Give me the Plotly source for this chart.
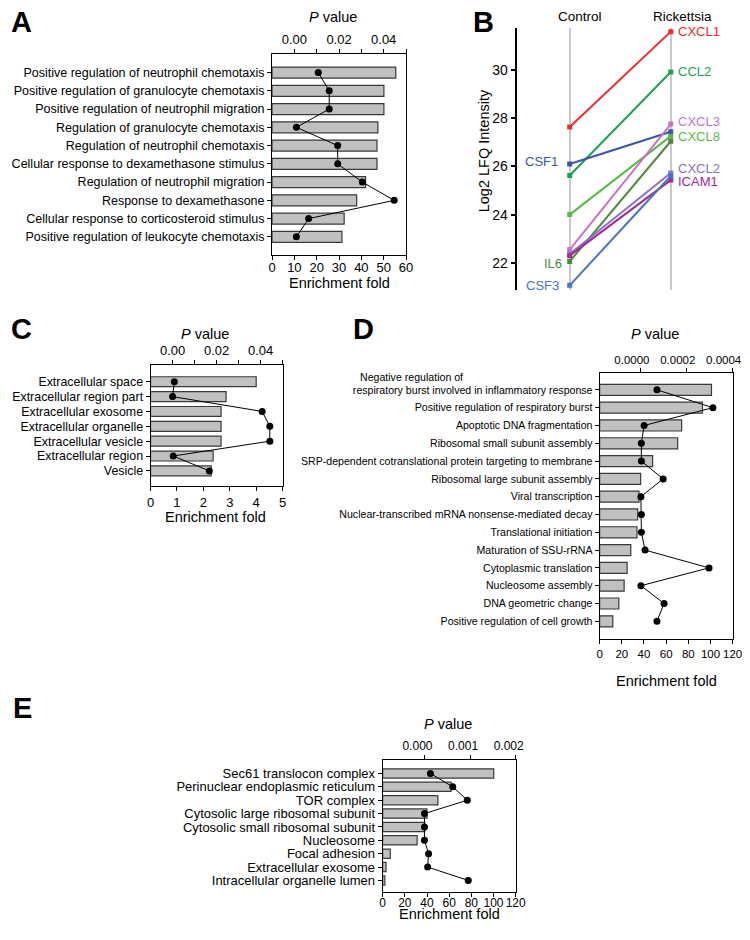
import plotly.graph_objects as go

# reference picture is 750x940; the page shows the figure inside an 8 px body margin,
# so positions below are given in reference pixels and mapped onto a smaller figure
W, H = 750, 940
OFF = 8
FW, FH = W - 2 * OFF, H - 3 * OFF
X0, X_SPAN = 3, 745   # reference x range mapped onto the figure width
Y_SPAN = 926          # reference y range (from OFF) mapped onto the figure height
FONT = "Liberation Sans, Arial, Helvetica, sans-serif"

# ---- panel A : GO biological process (neutrophil set)
a_terms = [
    "Positive regulation of neutrophil chemotaxis",
    "Positive regulation of granulocyte chemotaxis",
    "Positive regulation of neutrophil migration",
    "Regulation of granulocyte chemotaxis",
    "Regulation of neutrophil chemotaxis",
    "Cellular response to dexamethasone stimulus",
    "Regulation of neutrophil migration",
    "Response to dexamethasone",
    "Cellular response to corticosteroid stimulus",
    "Positive regulation of leukocyte chemotaxis",
]
a_fold = [55.4, 50.1, 50.1, 47.4, 47.0, 47.0, 41.9, 37.9, 32.3, 31.3]
a_pval = [0.0107, 0.0156, 0.0156, 0.0009, 0.0194, 0.0194, 0.0304, 0.0447, 0.0064, 0.0009]

# ---- panel B : LFQ intensities
b_groups = ["Control", "Rickettsia"]
b_genes = ["CXCL1", "CCL2", "CSF1", "CXCL8", "CXCL3", "IL6", "CXCL2", "ICAM1", "CSF3"]
b_control = [27.63, 25.62, 26.10, 24.00, 22.55, 22.06, 22.37, 22.30, 21.07]
b_rickettsia = [31.58, 29.91, 27.43, 27.25, 27.75, 27.04, 25.72, 25.43, 25.60]
b_colors = ["#ee2b2b", "#1fa050", "#3c55a6", "#5ab94a", "#c774c4",
            "#4e8a3c", "#8c70c8", "#a3288f", "#4a72c4"]
b_label_side = ["right", "right", "left", "right", "right", "left", "right", "right", "left"]

# ---- panel C : GO cellular component
c_terms = [
    "Extracellular space",
    "Extracellular region part",
    "Extracellular exosome",
    "Extracellular organelle",
    "Extracellular vesicle",
    "Extracellular region",
    "Vesicle",
]
c_fold = [4.0, 2.86, 2.67, 2.67, 2.67, 2.37, 2.30]
c_pval = [0.0008, 0.0, 0.0407, 0.0442, 0.0442, 0.0003, 0.0167]

# ---- panel D : GO biological process (second set)
d_terms = [
    "Negative regulation of<br>respiratory burst involved in inflammatory response",
    "Positive regulation of respiratory burst",
    "Apoptotic DNA fragmentation",
    "Ribosomal small subunit assembly",
    "SRP-dependent cotranslational protein targeting to membrane",
    "Ribosomal large subunit assembly",
    "Viral transcription",
    "Nuclear-transcribed mRNA nonsense-mediated decay",
    "Translational initiation",
    "Maturation of SSU-rRNA",
    "Cytoplasmic translation",
    "Nucleosome assembly",
    "DNA geometric change",
    "Positive regulation of cell growth",
]
d_fold = [100.9, 92.8, 74.0, 70.4, 47.8, 37.0, 35.5, 34.3, 33.7, 28.1, 24.8, 22.1, 17.3, 11.9]
d_pval = [0.000070, 0.000314, 0.000014, 0.000002, 0.000002, 0.000097, 0.0,
          0.000002, 0.000002, 0.000018, 0.000297, 0.0, 0.000101, 0.000070]

# ---- panel E : GO cellular component (second set)
e_terms = [
    "Sec61 translocon complex",
    "Perinuclear endoplasmic reticulum",
    "TOR complex",
    "Cytosolic large ribosomal subunit",
    "Cytosolic small ribosomal subunit",
    "Nucleosome",
    "Focal adhesion",
    "Extracellular exosome",
    "Intracellular organelle lumen",
]
e_fold = [100.2, 61.7, 49.8, 40.0, 38.0, 31.1, 6.8, 3.0, 2.0]
e_pval = [0.00013, 0.00062, 0.00094, 0.0, 0.0, 0.0, 0.00009, 0.00007, 0.00096]


def px(x):
    return (x - X0) / X_SPAN


def py(y):
    return 1 - (y - OFF) / Y_SPAN


def ax_key(kind, n):
    return kind if n == 1 else f"{kind}{n}"


def note(text, x, y, size, **kw):
    d = dict(text=text, x=px(x), y=py(y), xref="paper", yref="paper",
             xanchor="center", yanchor="middle", showarrow=False, font=dict(size=size))
    d.update(kw)
    return d


fig = go.Figure()
layout = {}
annotations = []

LINE = dict(showline=True, linecolor="black", linewidth=1, ticks="outside", ticklen=4,
            tickcolor="black", showgrid=False, zeroline=False, automargin=False, tickangle=0,
            ticklabeloverflow="allow")


def enrichment_panel(xb, xt, yy, terms, fold, pval, box, fold_range, fold_dtick,
                     p_range, p_ticks, p_fmt, p_minor, y_pad, bar_w, label_font,
                     tick_size=13, p_shift=0, fold_standoff=0):
    left, right, top, bottom = box
    ticktext = [t.split("<br>")[-1] for t in terms]
    fig.add_trace(go.Bar(
        x=fold, y=terms, orientation="h", width=bar_w,
        xaxis=ax_key("x", xb), yaxis=ax_key("y", yy),
        marker=dict(color="#c0c0c0", line=dict(color="#3a3a3a", width=1.2)),
        showlegend=False,
    ))
    fig.add_trace(go.Scatter(
        x=pval, y=terms, mode="lines+markers",
        xaxis=ax_key("x", xt), yaxis=ax_key("y", yy),
        line=dict(color="black", width=1), marker=dict(color="black", size=7),
        showlegend=False,
    ))
    layout[ax_key("xaxis", xb)] = dict(
        domain=[px(left), px(right)], range=fold_range, tick0=0, dtick=fold_dtick,
        anchor=ax_key("y", yy), tickfont=dict(size=tick_size),
        ticklabelstandoff=fold_standoff, **LINE)
    minor = dict(tickvals=p_minor, ticks="outside", ticklen=4, tickcolor="black") if p_minor else None
    layout[ax_key("xaxis", xt)] = dict(
        overlaying=ax_key("x", xb), side="top", anchor=ax_key("y", yy),
        range=p_range, tickvals=p_ticks, tickformat=p_fmt, minor=minor,
        ticklabelshift=p_shift, tickfont=dict(size=tick_size), **LINE)
    n = len(terms)
    layout[ax_key("yaxis", yy)] = dict(
        domain=[py(bottom), py(top)], range=[n - 1 + y_pad[1], -y_pad[0]],
        anchor=ax_key("x", xb), mirror=True, tickvals=terms, ticktext=ticktext,
        tickfont=label_font, **LINE)


enrichment_panel(1, 2, 1, a_terms, a_fold, a_pval, (271, 407, 55, 258),
                 [0, 60], 10, [-0.01, 0.05], [0, 0.02, 0.04], ".2f", [0.01, 0.03, 0.05],
                 (0.99, 1.01), 0.6, dict(size=12.5), fold_standoff=-4)
enrichment_panel(4, 5, 3, c_terms, c_fold, c_pval, (147.7, 281.7, 369.3, 491.7),
                 [0, 5], 1, [-0.01, 0.05], [0, 0.02, 0.04], ".2f", [0.01, 0.03, 0.05],
                 (1.1, 1.05), 0.67, dict(size=12.4))
enrichment_panel(6, 7, 4, d_terms, d_fold, d_pval, (603.5, 738.5, 377.3, 646),
                 [0, 120], 20, [-0.00018, 0.0004], [0, 0.0002, 0.0004], ".4f", None,
                 (0.93, 1.0), 0.62, dict(size=10.6), tick_size=11.5, p_shift=-9)
enrichment_panel(8, 9, 5, e_terms, e_fold, e_pval, (383.3, 518.3, 768.3, 901.7),
                 [0, 120], 20, [-0.000916, 0.002], [0, 0.001, 0.002], ".3f", None,
                 (1.0, 0.87), 0.69, dict(size=13), tick_size=12, p_shift=-7,
                 fold_standoff=-4)

# first line of the two-line term in panel D, left aligned like the original
annotations.append(note(d_terms[0].split("<br>")[0], 358, 381, 10.6, xanchor="left"))

# ---- panel B
for gene, c, r, col in zip(b_genes, b_control, b_rickettsia, b_colors):
    fig.add_trace(go.Scatter(
        x=b_groups, y=[c, r], mode="lines+markers", xaxis="x3", yaxis="y2",
        line=dict(color=col, width=2), marker=dict(color=col, size=5, symbol="square"),
        showlegend=False,
    ))

layout["xaxis3"] = dict(
    domain=[px(520), 1.0], type="category", range=[-0.518, 1.705], anchor="y2",
    showticklabels=False, ticks="", showline=False, zeroline=False, automargin=False,
    showgrid=True, gridcolor="#c9c9c9", gridwidth=2)
layout["yaxis2"] = dict(
    domain=[py(293), py(28)], range=[20.88, 31.74], anchor="x3", automargin=False,
    showline=True, linecolor="black", linewidth=1.5, ticks="outside", ticklen=5,
    tickwidth=1.5, tickcolor="black", tickvals=[22, 24, 26, 28, 30],
    tickfont=dict(size=14), showgrid=False, zeroline=False)

label_style = {  # gene -> (xshift, yshift)
    "CXCL1": (5, 0), "CCL2": (5, 0), "CXCL3": (5, 3), "CXCL8": (5, 0),
    "CXCL2": (5, 5), "ICAM1": (5, -1), "CSF1": (-10, 2), "IL6": (-6, -2), "CSF3": (-9, 0),
}
for gene, c, r, col, side in zip(b_genes, b_control, b_rickettsia, b_colors, b_label_side):
    xs, ys = label_style[gene]
    right = side == "right"
    annotations.append(dict(
        text=gene, x=b_groups[1] if right else b_groups[0], y=r if right else c,
        xref="x3", yref="y2", xanchor="left" if right else "right", yanchor="middle",
        xshift=xs, yshift=ys, showarrow=False, font=dict(size=13, color=col)))

for txt, x in zip(b_groups, [584, 688]):
    annotations.append(note(txt, x, 17, 13.5))
annotations.append(note("Log2 LFQ Intensity", 487, 152, 14.5, textangle=-90))

# ---- axis titles and panel letters
titles = [
    ("<i>P</i> value", 333, 17), ("Enrichment fold", 339, 286),
    ("<i>P</i> value", 203, 338), ("Enrichment fold", 214, 523),
    ("<i>P</i> value", 660, 338), ("Enrichment fold", 671, 688),
    ("<i>P</i> value", 450, 732), ("Enrichment fold", 451, 924),
]
for txt, x, y in titles:
    annotations.append(note(txt, x, y, 14.5))

for letter, x, y in [("A", 17, 22), ("B", 486, 22), ("C", 17, 332), ("D", 364, 332), ("E", 18, 716)]:
    annotations.append(note(f"<b>{letter}</b>", x, y, 29))

fig.update_layout(
    width=FW, height=FH, margin=dict(l=0, r=0, t=0, b=0, autoexpand=False),
    paper_bgcolor="white", plot_bgcolor="white",
    font=dict(family=FONT, color="black"),
    annotations=annotations, bargap=0.3,
    **layout,
)

fig.write_html("out.html")
